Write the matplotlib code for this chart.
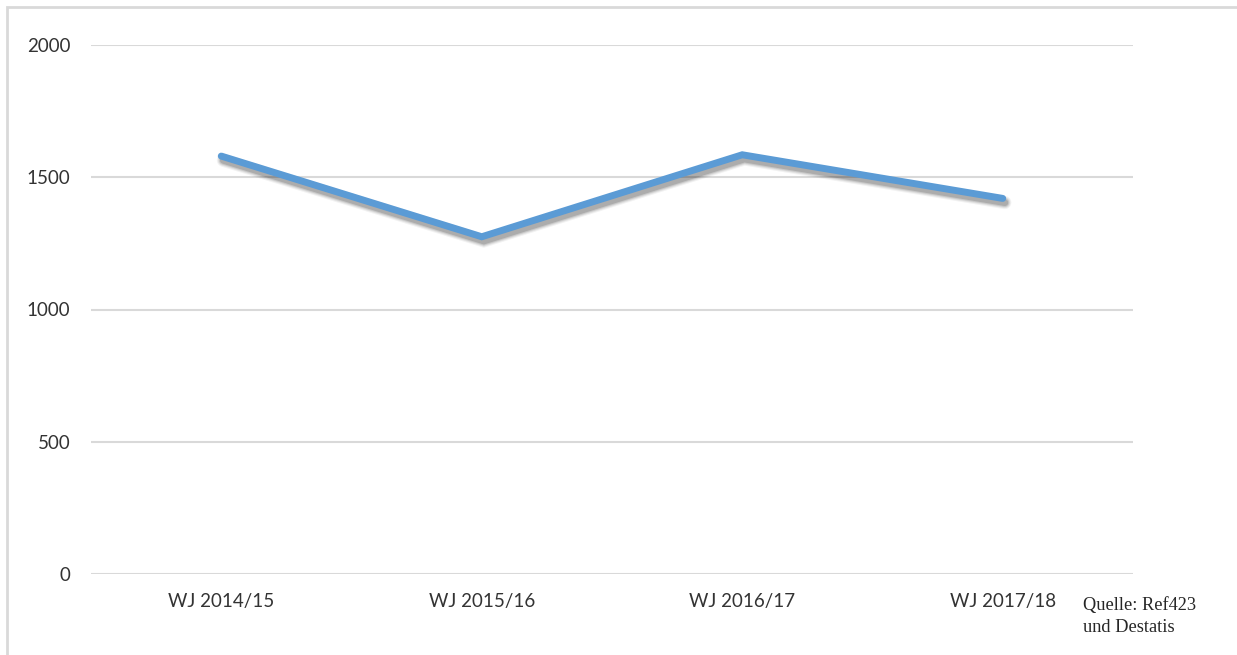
import matplotlib.pyplot as plt
import matplotlib.patheffects as pe
from matplotlib.patches import Rectangle

kategorien = ['WJ 2014/15', 'WJ 2015/16', 'WJ 2016/17', 'WJ 2017/18']
werte = [1580, 1275, 1585, 1420]
y_ticks = [0, 500, 1000, 1500, 2000]

fig = plt.figure(figsize=(12.37, 6.55), dpi=100)
ax = fig.add_axes([91 / 1237, 81 / 655, 1042 / 1237, 529 / 655])

# weicher Schatten aus mehreren Schichten
schatten = []
for lw, a in [(9.5, 0.05), (8, 0.07), (6.5, 0.10), (5, 0.14)]:
    schatten.append(pe.SimpleLineShadow(offset=(1.5, -3), shadow_color='black', alpha=a,
                                        linewidth=lw))

x = range(len(kategorien))
ax.plot(x, werte, color='#5B9BD5', linewidth=5, solid_capstyle='round',
        solid_joinstyle='miter', path_effects=schatten + [pe.Normal()])

ax.set_xlim(-0.5, 3.5)
ax.set_ylim(0, 2000)
ax.set_xticks(list(x))
ax.set_xticklabels(kategorien)
ax.set_yticks(y_ticks)
ax.set_yticklabels([str(v) for v in y_ticks])
for lbl in ax.get_xticklabels() + ax.get_yticklabels():
    lbl.set_fontfamily('Lato')
    lbl.set_fontsize(13.5)
    lbl.set_color('#333333')
ax.tick_params(axis='y', length=0, pad=15)
ax.tick_params(axis='x', length=0, pad=14)
ax.grid(axis='y', color='#D9D9D9', linewidth=1.5)
ax.set_axisbelow(True)
for s in ax.spines.values():
    s.set_visible(False)

# Quellenangabe
fig.text(1083 / 1237, 1 - 597 / 655, 'Quelle: Ref423\nund Destatis', family='Liberation Serif',
         fontsize=13.2, color='#262626', va='top', ha='left', linespacing=1.42)

# Rahmen oben und links
fig.patches.append(Rectangle((7 / 1237, -0.1), 1.2, 1 - 7 / 655 + 0.1, transform=fig.transFigure,
                             fill=False, edgecolor='#D9D9D9', linewidth=2))

fig.savefig('out.png', dpi=100)
